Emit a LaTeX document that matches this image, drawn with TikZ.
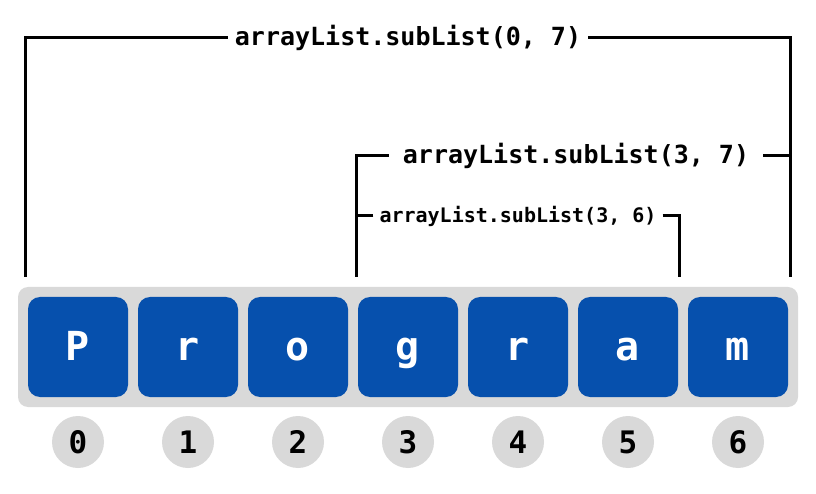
\documentclass[tikz,border=0pt]{standalone}
\usepackage{fontspec}
\newfontfamily\codefont{DejaVu Sans Mono}
\definecolor{cellblue}{HTML}{0650AD}
\definecolor{bandgray}{HTML}{D9D9D9}

\begin{document}
\begin{tikzpicture}[x=1pt,y=1pt,
    band/.style={fill=bandgray,rounded corners=10pt,minimum width=780pt,minimum height=120pt},
    cell/.style={fill=cellblue,rounded corners=12pt,minimum size=100pt,inner sep=0pt,text=white,
      font=\codefont\bfseries\fontsize{40}{40}\selectfont,text height=34pt,text depth=8pt},
    idx/.style={circle,fill=bandgray,minimum size=52pt,inner sep=0pt,
      font=\codefont\bfseries\fontsize{31}{31}\selectfont},
    call/.style={font=\codefont\bfseries\fontsize{25}{25}\selectfont,inner sep=7pt},
    bracket/.style={line width=3pt}]
      \useasboundingbox (0,0) rectangle (816,493);
      \node[band] (row) at (408,146) {};
      \foreach \ch [count=\i from 0] in {P,r,o,g,r,a,m} {
        \node[cell] (c\i) at (78+110*\i,146) {\ch};
        \node[idx] (n\i) at (78+110*\i,51) {\i};
      }
      \node[call] (s07) at (408,455) {arrayList.subList(0, 7)};
      \node[call,inner xsep=14pt] (s37) at (576,337) {arrayList.subList(3, 7)};
      \node[call,font=\codefont\bfseries\fontsize{20}{20}\selectfont,inner sep=6pt] (s36) at (518,277) {arrayList.subList(3, 6)};
      \coordinate (a0) at ([shift={(-2pt,20pt)}]c0.north west);
      \coordinate (b0) at ([shift={(2pt,20pt)}]c6.north east);
      \coordinate (a3) at ([shift={(-1pt,20pt)}]c3.north west);
      \coordinate (b5) at ([shift={(1pt,20pt)}]c5.north east);
      \draw[bracket] (s07.west) -| (a0);
      \draw[bracket] (s07.east) -| (b0);
      \draw[bracket] (s37.west) -| (a3);
      \draw[bracket] (s37.east) -- (s37.east -| b0);
      \draw[bracket] (s36.west) -- (s36.west -| a3);
      \draw[bracket] (s36.east) -| (b5);
    \end{tikzpicture}
\end{document}
